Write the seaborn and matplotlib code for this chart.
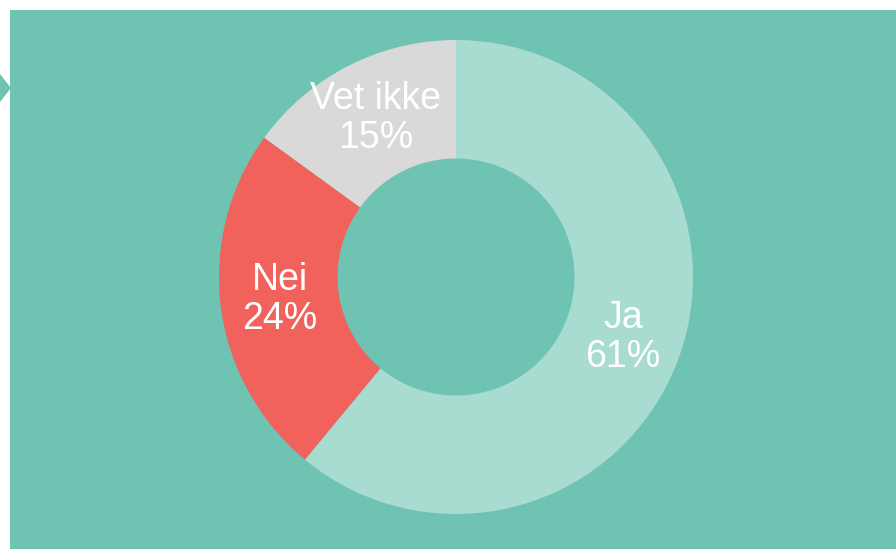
import matplotlib
matplotlib.use("Agg")
import matplotlib.pyplot as plt
import seaborn as sns
from matplotlib.patches import Rectangle, Polygon

# -------------------------------------------------
# Data
# -------------------------------------------------
labels = ["Ja", "Nei", "Vet ikke"]
shares = [61, 24, 15]
colors = ["#a9dcd1", "#f0625b", "#d9d9d9"]

panel_color = "#6fc3b2"

sns.set_theme(style="white")
plt.rcParams["font.family"] = ["Liberation Sans", "DejaVu Sans"]

W, H = 896, 549
fig = plt.figure(figsize=(W / 100, H / 100), dpi=100)
fig.patch.set_facecolor("white")

# teal panel + small arrow on the left edge (behind the axes)
fig.patches.append(Rectangle((10 / W, 0), 1 - 10 / W, (H - 10) / H,
                             transform=fig.transFigure, facecolor=panel_color,
                             edgecolor="none", zorder=-5))
fig.patches.append(Polygon([(0, 1 - 74 / H), (11 / W, 1 - 88 / H), (0, 1 - 102 / H)],
                           closed=True, transform=fig.transFigure,
                           facecolor=panel_color, edgecolor="none", zorder=-5))

# donut centre (456, 277) px, outer radius 237 px
cx, cy, r = 456, H - 277, 237
ax = fig.add_axes([(cx - r) / W, (cy - r) / H, 2 * r / W, 2 * r / H])
ax.set_facecolor("none")
ax.set_zorder(1)

text_labels = [f"{l}\n{s}%" for l, s in zip(labels, shares)]
wedges, texts = ax.pie(
    shares,
    labels=text_labels,
    colors=colors,
    startangle=90,
    counterclock=False,
    radius=1,
    labeldistance=0.75,
    wedgeprops=dict(width=0.5, linewidth=0),
    textprops=dict(color="white", fontsize=27, ha="center", va="center",
                   linespacing=1.12),
)
ax.set_xlim(-1, 1)
ax.set_ylim(-1, 1)
ax.axis("off")

fig.savefig("out.png", dpi=100, facecolor="white")
